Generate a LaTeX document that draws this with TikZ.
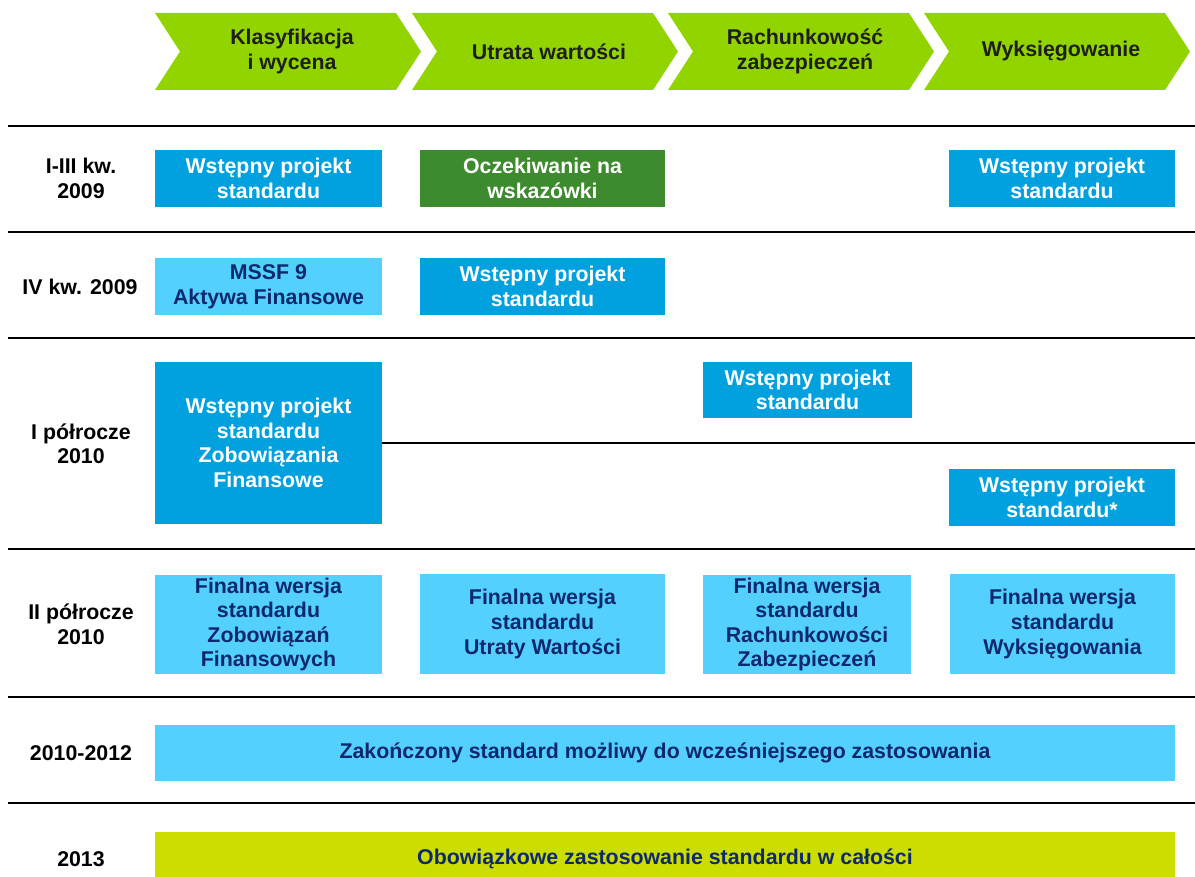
\documentclass[tikz,border=0pt]{standalone}
\usepackage{fontspec}
\setmainfont{Liberation Sans}

\definecolor{chevgreen}{RGB}{146,212,0}
\definecolor{midblue}{RGB}{0,161,222}
\definecolor{lightblue}{RGB}{84,208,255}
\definecolor{navytext}{RGB}{14,40,110}
\definecolor{waitgreen}{RGB}{62,138,46}
\definecolor{limebar}{RGB}{204,221,0}
\definecolor{chevtextcol}{RGB}{30,30,30}

\tikzset{
  rule/.style={line width=1.5pt, black},
  chevshape/.style={fill=chevgreen, draw=none},
  boldtext/.style={font=\bfseries\fontsize{16}{18.4}\selectfont, align=center, inner sep=0pt},
  chevlabel/.style={boldtext, text=chevtextcol},
  rowlabel/.style={boldtext, text=black},
  draftbox/.style={boldtext, fill=midblue, text=white},
  finalbox/.style={boldtext, fill=lightblue, text=navytext},
  waitbox/.style={boldtext, fill=waitgreen, text=white},
  limebox/.style={boldtext, fill=limebar, text=navytext},
}

% box given by its corners: name, style, x1, y1, x2, y2, text
\newcommand\planbox[7]{%
  \node[#2, minimum width={(#5-#3)*0.75pt}, minimum height={(#6-#4)*0.75pt}]
    (#1) at ({(#3+#5)/2},{(#4+#6)/2}) {#7};}

% chevron header: name, left x, text
\newcommand\chevron[3]{%
  \fill[chevshape] (#2,13) -- ++(241,0) -- ++(25,38.5) -- ++(-25,38.5)
    -- ++(-241,0) -- ++(25,-38.5) -- cycle;
  \node[chevlabel] (#1) at (#2+137,51.5) {#3};}

\begin{document}
\begin{tikzpicture}[x=0.75pt,y=-0.75pt]
\useasboundingbox (0,0) rectangle (1195,877);
\clip (0,0) rectangle (1195,877);

% column headers
\chevron{hclass}{155}{Klasyfikacja\\i wycena}
\chevron{himpair}{412}{Utrata wartości}
\chevron{hhedge}{668}{Rachunkowość\\zabezpieczeń}
\chevron{hderec}{924}{Wyksięgowanie}

% row separators
\foreach \y in {126,232,338,549,697,803}
  \draw[rule] (8,\y) -- (1195,\y);

% row labels
\node[rowlabel] (l1) at (81,178.5) {I-III kw.\\2009};
\node[rowlabel] (l2) at (80,286.5) {IV kw. 2009};
\node[rowlabel] (l3) at (81,444) {I półrocze\\2010};
\node[rowlabel] (l4) at (81,624.5) {II półrocze\\2010};
\node[rowlabel] (l5) at (81,753) {2010-2012};
\node[rowlabel] (l6) at (81,859) {2013};

% I-III kw. 2009
\planbox{r1a}{draftbox}{155}{150}{382}{207}{Wstępny projekt\\standardu}
\planbox{r1b}{waitbox}{420}{150}{665}{207}{Oczekiwanie na\\wskazówki}
\planbox{r1d}{draftbox}{949}{150}{1175}{207}{Wstępny projekt\\standardu}

% IV kw. 2009
\planbox{r2a}{finalbox}{155}{258}{382}{315}{MSSF 9\\Aktywa Finansowe}
\planbox{r2b}{draftbox}{420}{258}{665}{315}{Wstępny projekt\\standardu}

% I półrocze 2010
\planbox{r3a}{draftbox}{155}{362}{382}{524}{Wstępny projekt\\standardu\\Zobowiązania\\Finansowe}
\planbox{r3c}{draftbox}{703}{362}{912}{418}{Wstępny projekt\\standardu}
\planbox{r3d}{draftbox}{949}{469}{1175}{526}{Wstępny projekt\\standardu*}
\draw[rule] (r3a.east |- 0,443) -- (1195,443);

% II półrocze 2010
\planbox{r4a}{finalbox}{155}{575}{382}{674}{Finalna wersja\\standardu\\Zobowiązań\\Finansowych}
\planbox{r4b}{finalbox}{420}{574}{665}{674}{Finalna wersja\\standardu\\Utraty Wartości}
\planbox{r4c}{finalbox}{703}{575}{911}{674}{Finalna wersja\\standardu\\Rachunkowości\\Zabezpieczeń}
\planbox{r4d}{finalbox}{950}{574}{1175}{674}{Finalna wersja\\standardu\\Wyksięgowania}

% 2010-2012
\planbox{r5}{finalbox}{155}{725}{1175}{781}{Zakończony standard możliwy do wcześniejszego zastosowania}

% 2013
\planbox{r6}{limebox}{155}{832}{1175}{886}{Obowiązkowe zastosowanie standardu w całości}
\end{tikzpicture}
\end{document}
